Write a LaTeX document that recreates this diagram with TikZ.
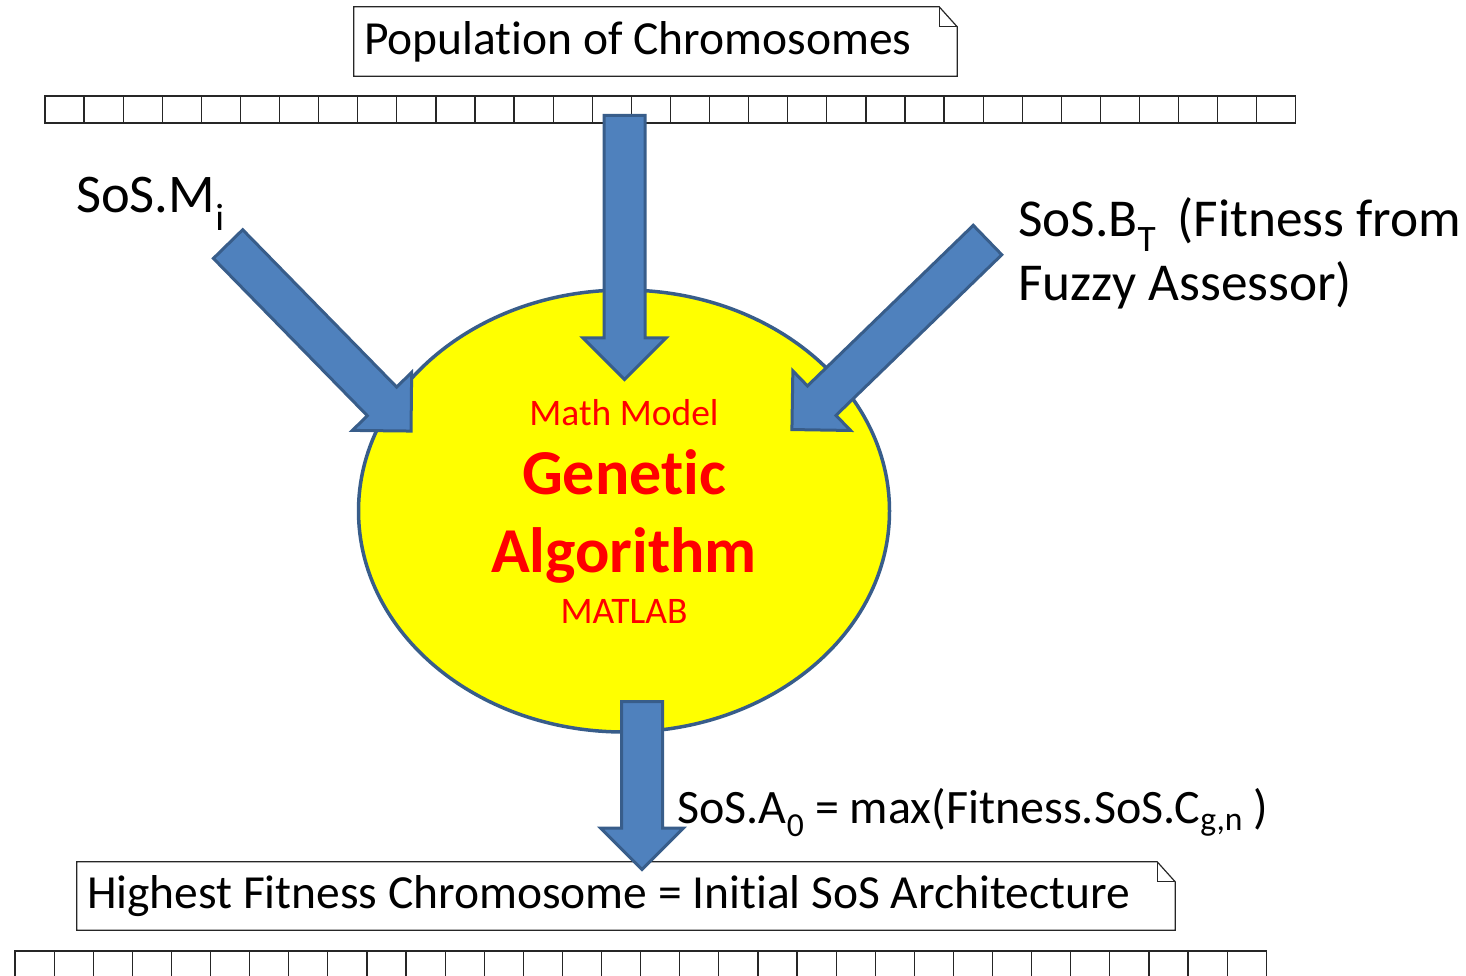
\documentclass[tikz,border=0pt]{standalone}
\usepackage{fontspec}
\setmainfont{Carlito}[Ligatures=NoCommon]
\usetikzlibrary{shapes.geometric,shapes.arrows,calc}
\definecolor{abfill}{HTML}{4F81BD}
\definecolor{abline}{HTML}{385D8A}
\definecolor{gared}{RGB}{255,0,0}
\definecolor{gayellow}{RGB}{255,255,0}
\tikzset{
  cellbox/.style={draw=black!85, line width=1.2pt},
  notetext/.style={inner xsep=10pt, inner ysep=0pt, align=flush left, anchor=center},
  noteline/.style={draw=black!85, line width=1.2pt},
  bigarrow/.style={single arrow, single arrow head extend=21pt, single arrow tip angle=90,
    minimum width=80pt, inner xsep=0pt, inner ysep=19pt, fill=abfill, draw=abline, line width=3pt, line join=miter},
  gaoval/.style={ellipse, minimum width=531pt, minimum height=442pt, fill=gayellow, draw=abline, line width=3.5pt},
  redtxt/.style={text=gared, inner sep=0pt, anchor=base, font=\fontsize{37.5}{42}\selectfont},
  redbold/.style={text=gared, inner sep=0pt, anchor=base, font=\fontsize{64}{70}\selectfont\bfseries},
  lbl/.style={inner sep=0pt, anchor=base west}
}
\newcommand\blockarrow[3]{%
  \path let \p1=(#2), \p2=(#3), \n1={atan2(\y2-\y1,\x2-\x1)}, \n2={veclen(\x2-\x1,\y2-\y1)} in
    node[bigarrow, rotate=\n1, minimum height=\n2, anchor=tail] (#1) at (\p1) {};}
\newcommand\foldbox[1]{%
  \draw[noteline] (#1.north west) -- ([xshift=-18pt]#1.north east) -- ([yshift=-20pt]#1.north east)
     -- (#1.south east) -- (#1.south west) -- cycle;
  \draw[noteline] ([xshift=-18pt]#1.north east) -- ([xshift=-18pt,yshift=-20pt]#1.north east)
     -- ([yshift=-20pt]#1.north east);}
\begin{document}
\begin{tikzpicture}[x=1pt,y=-1pt]
\useasboundingbox (0,0) rectangle (1466,976);
% chromosome rows
\foreach \i in {0,...,31} \draw[cellbox] ({45+\i*39.09},96) rectangle ++(39.09,27);
\foreach \i in {0,...,31} \draw[cellbox] ({15+\i*39.1},951) rectangle ++(39.1,30);
% note boxes
\node[notetext, minimum width=603pt, minimum height=69pt, text width=583pt,
      font=\fontsize{47.5}{52}\selectfont] (pop) at (655.5,41.5) {Population of Chromosomes};
\foldbox{pop}
\node[notetext, minimum width=1098pt, minimum height=68pt, text width=1078pt,
      font=\fontsize{47.5}{52}\selectfont] (best) at (626,896) {Highest Fitness Chromosome = Initial SoS Architecture};
\foldbox{best}
% genetic algorithm oval
\node[gaoval] (ga) at (624,511) {};
\node[redtxt] (mm) at (624,425) {Math Model};
\node[redbold] (gen) at (624,494) {Genetic};
\node[redbold] (alg) at (624,572) {Algorithm};
\node[redtxt] (mat) at (624,623) {MATLAB};
% labels
\node[lbl, font=\fontsize{54.5}{60}\selectfont] (mi) at (76,213) {SoS.M\textsubscript{i}};
\node[lbl, align=flush left, font=\fontsize{53.3}{64}\selectfont] (bt) at (1018,300) {SoS.B\textsubscript{T}\hspace{0.4em}(Fitness from\\Fuzzy Assessor)};
\node[lbl, font=\fontsize{48}{52}\selectfont] (ao) at (677,823) {SoS.A\textsubscript{0} = max(Fitness.SoS.C\textsubscript{g,n} )};
% arrow coordinates
\coordinate (topTail) at (624.5,114);
\coordinate (topTip) at (624.5,378);
\coordinate (lTail) at (227,243);
\coordinate (lTip) at (410,430);
\coordinate (rTail) at (988.6,239);
\coordinate (rTip) at (793,428.5);
\coordinate (bTail) at (642,700);
\coordinate (bTip) at (642,868);
\blockarrow{aTop}{topTail}{topTip}
\blockarrow{aLeft}{lTail}{lTip}
\blockarrow{aRight}{rTail}{rTip}
\blockarrow{aBot}{bTail}{bTip}
\end{tikzpicture}
\end{document}
